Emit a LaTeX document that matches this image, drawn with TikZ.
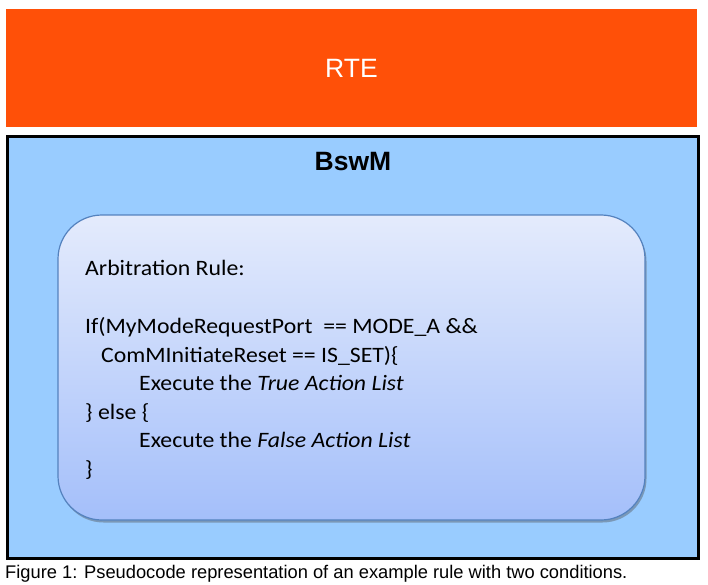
\documentclass[tikz,border=0pt]{standalone}
\usepackage{fontspec}
\setmainfont{Liberation Sans}
\newfontfamily\calibri[FakeStretch=1.08]{Carlito}
\usetikzlibrary{shadows}
\definecolor{rteorange}{RGB}{255,80,8}
\definecolor{bswmblue}{RGB}{153,204,255}
\definecolor{ruletop}{RGB}{228,235,252}
\definecolor{rulebot}{RGB}{164,191,250}
\definecolor{ruleedge}{RGB}{84,130,190}
\tikzset{
  codeline/.style={anchor=base west, inner sep=0, font=\calibri\fontsize{22}{26}\selectfont, text=black},
}
\begin{document}
\begin{tikzpicture}[x=1pt,y=-1pt]
\useasboundingbox (0,0) rectangle (708,585);
\fill[white] (0,0) rectangle (708,585);
% RTE
\node (rte) [fill=rteorange, minimum width=691pt, minimum height=118pt, inner sep=0,
  text=white, font=\fontsize{26.5}{30}\selectfont] at (351.5,68) {RTE};
% BswM frame
\node (bswm) [fill=bswmblue, draw=black, line width=3.5pt, minimum width=691pt, minimum height=421.5pt, inner sep=0] at (353,347.5) {};
\node (bswmtitle) [font=\bfseries\fontsize{26.5}{30}\selectfont, inner sep=0] at (353,162) {BswM};
% rule box
\node (rule) [draw=ruleedge, line width=1.2pt, rounded corners=44pt, top color=ruletop, bottom color=rulebot,
  minimum width=587pt, minimum height=305pt, inner sep=0,
  drop shadow={shadow xshift=1.5pt, shadow yshift=-2.5pt, opacity=0.4, fill=black!70}] at (351.5,367.5) {};
% code
\node (l1) [codeline] at (85,275.5) {Arbitration Rule:};
\node (l2) [codeline] at (85,333.5) {If(MyModeRequestPort\ \ == MODE\_A \&\&};
\node (l3) [codeline] at (101,362) {ComMInitiateReset == IS\_SET)\{};
\node (l4) [codeline] at (139,390.5) {Execute the \textit{True Action List}};
\node (l5) [codeline] at (85,419) {\} else \{};
\node (l6) [codeline] at (139,447.5) {Execute the \textit{False Action List}};
\node (l7) [codeline] at (85,476) {\}};
% caption
\node (caption) [anchor=base west, inner sep=0, font=\fontsize{18.3}{21}\selectfont] at (5,578) {Figure 1: Pseudocode representation of an example rule with two conditions.};
\end{tikzpicture}
\end{document}
